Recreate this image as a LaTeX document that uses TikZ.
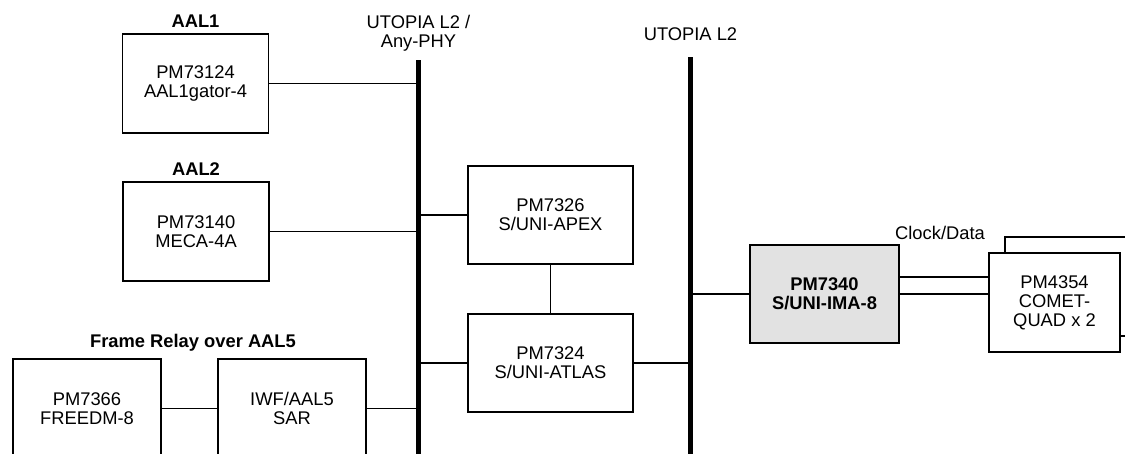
\documentclass[tikz,border=0pt]{standalone}
\usepackage{fontspec}
\setmainfont{Liberation Sans}
\usepackage{xcolor}
\usetikzlibrary{positioning}
\definecolor{imafill}{RGB}{226,226,226}

\begin{document}
\begin{tikzpicture}[x=0.6pt,y=-0.6pt,font=\fontsize{11}{11.4}\selectfont,
  chip/.style={draw,line width=0.7pt,align=center,inner sep=0pt,minimum width=87.6pt,minimum height=59.4pt},
  bus/.style={line width=3pt},
  wire/.style={line width=0.7pt},
  tag/.style={anchor=base,inner sep=0pt,align=center}]
\useasboundingbox (0,0) rectangle (1125,453);
\clip (0,0) rectangle (1125,453);
% the two buses
\coordinate (busatop) at (418.5,60);
\coordinate (busabot) at (418.5,455);
\coordinate (busbtop) at (690.5,57);
\coordinate (busbbot) at (690.5,455);
\draw[bus] (busatop) -- (busabot);
\draw[bus] (busbtop) -- (busbbot);
\node[tag] (busalbl) at (418.5,47) {UTOPIA L2 /\\Any-PHY};
\node[tag] (busblbl) at (690.5,40) {UTOPIA L2};
% left column
\node[chip] (aalone) at (195.5,83.5) {PM73124\\AAL1gator-4};
\node[tag,font=\fontsize{11}{11.4}\selectfont\bfseries] (aalonelbl) at (195.5,27) {AAL1};
\node[chip] (aaltwo) at (196,231.5) {PM73140\\MECA-4A};
\node[tag,font=\fontsize{11}{11.4}\selectfont\bfseries] (aaltwolbl) at (196,175) {AAL2};
\node[chip,minimum width=88.8pt] (freedm) at (87,408.5) {PM7366\\FREEDM-8};
\node[chip,minimum width=88.8pt] (sar) at (292,408.5) {IWF/AAL5\\SAR};
\node[tag,font=\fontsize{11}{11.4}\selectfont\bfseries] (frlbl) at (193,347) {Frame Relay over AAL5};
% middle
\node[chip,minimum width=99pt,minimum height=58.8pt] (apex) at (550.5,215) {PM7326\\S/UNI-APEX};
\node[chip,minimum width=99pt,minimum height=58.8pt] (atlas) at (550.5,363) {PM7324\\S/UNI-ATLAS};
% right
\node[chip,fill=imafill,minimum width=89.4pt,minimum height=58.8pt,font=\fontsize{11}{11.4}\selectfont\bfseries] (ima) at (824.5,294) {PM7340\\S/UNI-IMA-8};
\node[chip,fill=white,minimum width=78.6pt] (cometback) at (1070.5,286.5) {};
\node[chip,fill=white,minimum width=78.6pt] (comet) at (1054.5,302.5) {PM4354\\COMET-\\QUAD x 2};
\node[tag] (clklbl) at (940,239) {Clock/Data};
% connectors
\draw[wire] (aalone.east) -- (aalone.east -| busatop);
\draw[wire] (aaltwo.east) -- (aaltwo.east -| busatop);
\draw[wire] (freedm.east) -- (sar.west);
\draw[wire] (sar.east) -- (sar.east -| busatop);
\draw[wire] (apex.west) -- (apex.west -| busatop);
\draw[wire] (atlas.west) -- (atlas.west -| busatop);
\draw[wire] (apex.south) -- (atlas.north);
\draw[wire] (atlas.east) -- (atlas.east -| busbtop);
\draw[wire] (ima.west) -- (ima.west -| busbtop);
\draw[wire] (ima.east) -- (ima.east -| comet.west);
\draw[wire] ([yshift=10.2pt]ima.east) -- ([yshift=10.2pt]ima.east -| comet.west);
\end{tikzpicture}
\end{document}
